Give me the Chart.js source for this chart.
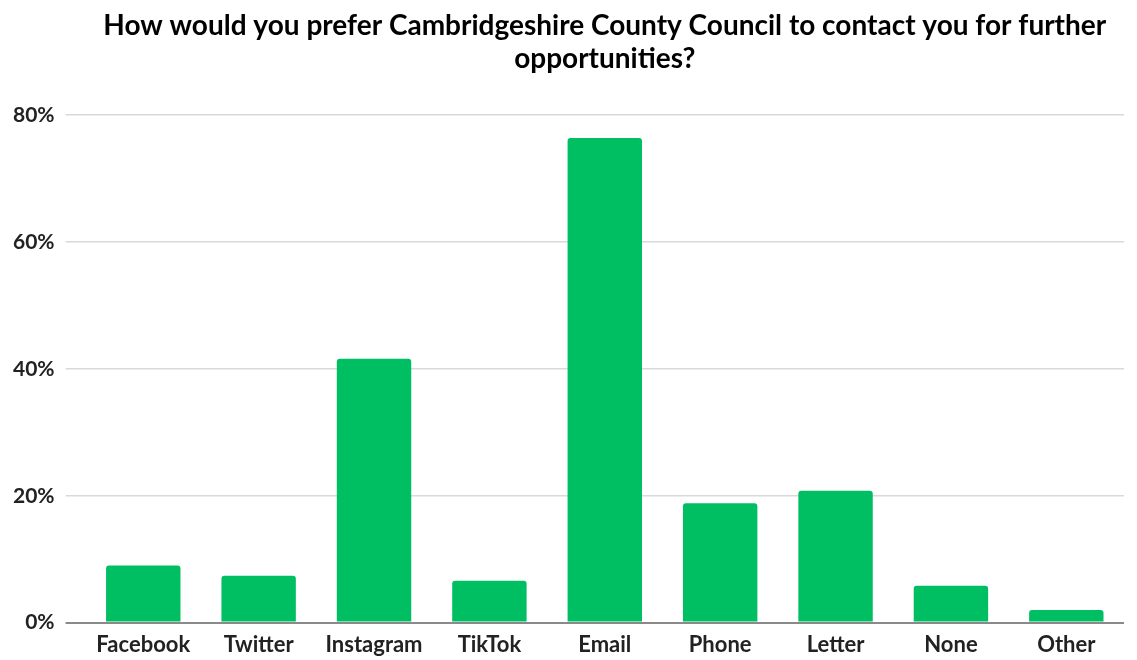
<!DOCTYPE html>
<html>
<head>
<meta charset="utf-8">
<script src="https://cdn.jsdelivr.net/npm/chart.js@4/dist/chart.umd.min.js"></script>
<style>
html,body{margin:0;padding:0;background:#fff;}
#wrap{width:1137px;height:660px;}
</style>
</head>
<body>
<div id="wrap"><canvas id="c" width="1137" height="660"></canvas></div>
<script>
const categories = ["Facebook","Twitter","Instagram","TikTok","Email","Phone","Letter","None","Other"];
const values = [9.0, 7.4, 41.6, 6.6, 76.4, 18.8, 20.8, 5.8, 2.0];
const yTicks = [0, 20, 40, 60, 80];
const titleLines = ["How would you prefer Cambridgeshire County Council to contact you for further", "opportunities?"];

new Chart(document.getElementById('c'), {
  type: 'bar',
  data: {
    labels: categories,
    datasets: [{
      data: values,
      backgroundColor: '#00BF63',
      borderRadius: {topLeft: 3, topRight: 3, bottomLeft: 0, bottomRight: 0},
      borderSkipped: 'bottom',
      categoryPercentage: 1.0,
      barPercentage: 0.645
    }]
  },
  options: {
    responsive: false,
    animation: false,
    layout: {padding: {left: 2, right: 13, top: 9, bottom: 0}},
    plugins: {
      legend: {display: false},
      tooltip: {enabled: false},
      title: {
        display: true,
        fullSize: false,
        text: titleLines,
        color: '#000',
        font: {family: 'Lato', weight: 'bold', size: 28},
        lineHeight: 1.36,
        padding: {top: 0, bottom: 39}
      }
    },
    scales: {
      x: {
        grid: {display: false},
        border: {display: false},
        ticks: {color: '#222', font: {family: 'Lato', weight: 'bold', size: 22}, padding: 1.5}
      },
      y: {
        min: 0, max: 80,
        afterBuildTicks: (axis) => { axis.ticks = yTicks.map(v => ({value: v})); },
        grid: {
          color: (ctx) => ctx.index === 0 ? '#8a8a8a' : '#d9d9d9',
          lineWidth: (ctx) => ctx.index === 0 ? 2 : 1.5,
          tickLength: 20
        },
        border: {display: false},
        ticks: {
          color: '#222',
          font: {family: 'Lato', weight: 'bold', size: 21},
          padding: 11,
          callback: (v) => v + '%'
        }
      }
    }
  }
});
</script>
</body>
</html>
